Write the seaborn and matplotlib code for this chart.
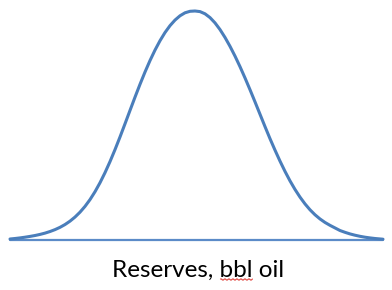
import matplotlib
matplotlib.use("Agg")
import matplotlib.pyplot as plt
import seaborn as sns
import pandas as pd
import numpy as np

# Reserves (arbitrary units along x) and probability density (arbitrary height)
reserves = [10, 15, 20, 25, 30, 35, 40, 45, 50, 55, 60, 65, 70, 75, 80, 85, 90, 95,
            100, 105, 110, 115, 120, 125, 130, 135, 140, 145, 150, 155, 160, 165,
            170, 175, 180, 185, 190, 195, 200, 205, 210, 215, 220, 225, 230, 235,
            240, 245, 250, 255, 260, 265, 270, 275, 280, 285, 290, 295, 300, 305,
            310, 315, 320, 325, 330, 335, 340, 345, 350, 355, 360, 365, 370, 375, 383]
density = [1.0, 1.5, 2.1, 2.8, 3.6, 4.5, 5.6, 6.9, 8.5, 10.4, 12.7, 15.5, 18.9, 23.0,
           27.9, 33.7, 40.5, 48.4, 57.4, 67.5, 78.6, 90.6, 103.3, 116.5, 129.9, 143.2,
           156.1, 168.4, 179.9, 190.4, 199.8, 208.0, 214.9, 220.5, 224.8, 227.8, 229.3,
           229.6, 229.0, 226.8, 223.0, 217.7, 211.0, 203.1, 194.2, 184.4, 173.8, 162.5,
           150.7, 138.5, 126.1, 113.7, 101.6, 90.1, 79.1, 68.8, 59.3, 50.7, 43.0, 36.2,
           30.3, 25.3, 21.1, 17.6, 14.7, 12.1, 9.5, 7.7, 6.1, 4.8, 3.7, 2.8, 2.1, 1.5, 0.8]
x_label_parts = ["Reserves, ", "bbl", " oil"]

df = pd.DataFrame({"reserves": reserves, "density": density})

sns.set_theme(style="white")
plt.rcParams["font.family"] = ["Lato", "DejaVu Sans"]

W, H = 392, 290
fig = plt.figure(figsize=(W / 100, H / 100), dpi=100)
ax = fig.add_axes([10 / W, 50 / H, 373 / W, 229 / H])

line_color = "#4A7EBB"
sns.lineplot(data=df, x="reserves", y="density", ax=ax, color=line_color,
             linewidth=2.2, clip_on=False)
ax.lines[0].set_solid_joinstyle("round")
ax.axhline(0, color="#5B8BC8", linewidth=1.6, clip_on=False, zorder=1)

ax.set_xlim(10, 383)
ax.set_ylim(0, max(density))
for s in ax.spines.values():
    s.set_visible(False)
ax.set_xticks([])
ax.set_yticks([])
ax.set_xlabel("")
ax.set_ylabel("")

# label, centred, with a red spell-check squiggle under "bbl"
fs = 17.5
full = "".join(x_label_parts)
t = fig.text(198 / W, 1 - 277 / H, full, ha="center", va="baseline",
             fontsize=fs, color="black")
fig.canvas.draw()
r = fig.canvas.get_renderer()
bb = t.get_window_extent(r)
pre = fig.text(0, 0, x_label_parts[0], fontsize=fs)
mid = fig.text(0, 0, x_label_parts[0] + x_label_parts[1], fontsize=fs)
x0 = bb.x0 + pre.get_window_extent(r).width
x1 = bb.x0 + mid.get_window_extent(r).width
pre.remove(); mid.remove()
xs = np.arange(x0 + 1, x1 + 1, 1.0)
ys = (H - 280) + np.where((np.arange(len(xs)) // 2) % 2 == 0, 1.0, -0.0)
fig.add_artist(plt.Line2D(xs / W, ys / H, color="#E0403A", linewidth=0.8,
                          transform=fig.transFigure))

fig.savefig("out.png", dpi=100, facecolor="white")
